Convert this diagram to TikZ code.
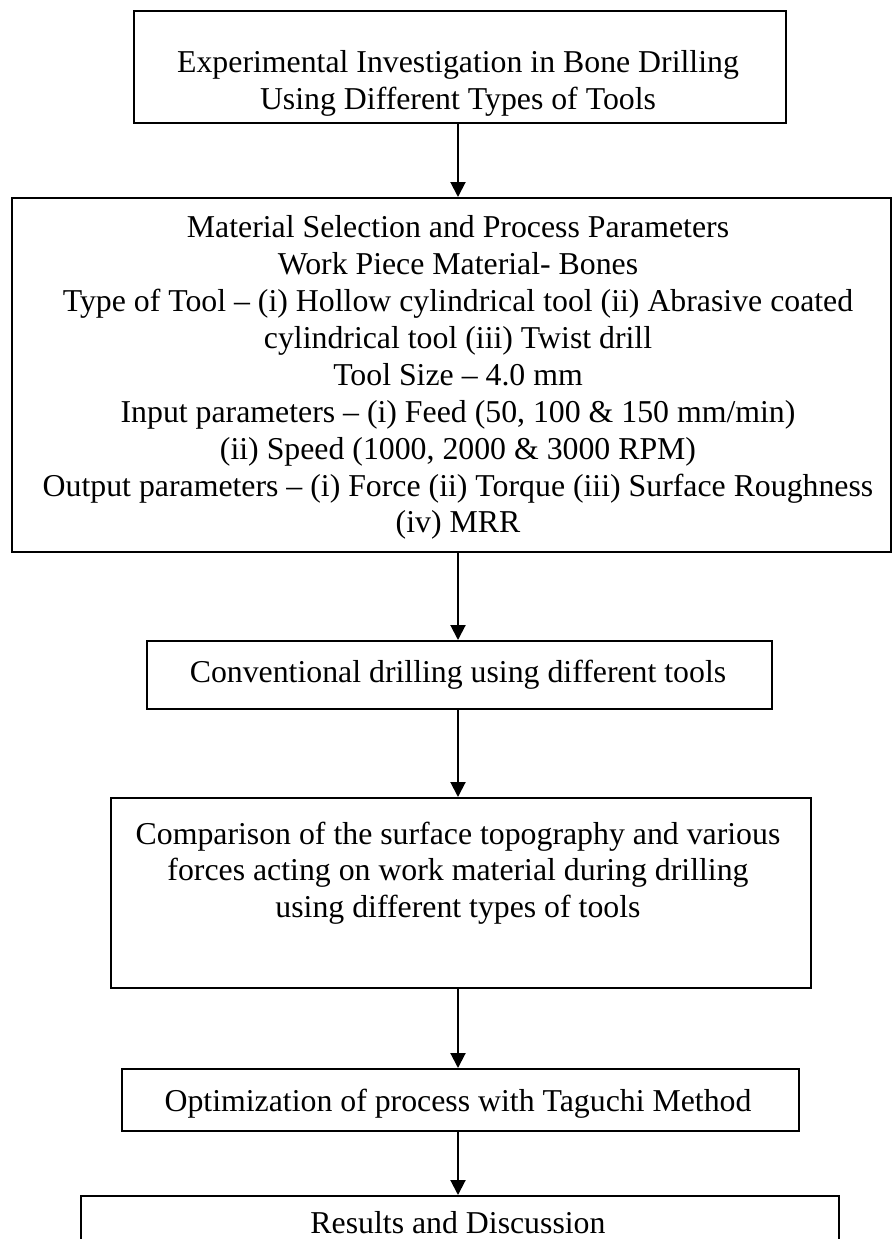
\documentclass[tikz,border=0pt]{standalone}
\usepackage{fontspec}
\setmainfont{Liberation Serif}
\usetikzlibrary{arrows.meta}
\begin{document}
\begin{tikzpicture}[x=1pt,y=-1pt,
  box/.style={draw=black,line width=2pt,fill=none,inner sep=0pt,anchor=north west},
  txt/.style={inner sep=0pt,anchor=base,font=\fontsize{31.8}{36.5}\selectfont},
  flow/.style={line width=2pt,-{Triangle[length=15pt,width=15pt]}}]
\useasboundingbox (0,0) rectangle (893,1239);
\clip (0,0) rectangle (893,1239);
% boxes
\node[box,minimum width=652pt,minimum height=112pt] (b1) at (133,10) {};
\node[box,minimum width=879pt,minimum height=354pt] (b2) at (11,197) {};
\node[box,minimum width=625pt,minimum height=68pt] (b3) at (146,640) {};
\node[box,minimum width=700pt,minimum height=190pt] (b4) at (110,797) {};
\node[box,minimum width=677pt,minimum height=62pt] (b5) at (121,1068) {};
\node[box,minimum width=758pt,minimum height=80pt] (b6) at (80,1195) {};
% texts
\node[txt] (t1a) at (458,73) {Experimental Investigation in Bone Drilling};
\node[txt] (t1b) at (458,109.5) {Using Different Types of Tools};
\node[txt] (t2a) at (458,237) {Material Selection and Process Parameters};
\node[txt] (t2b) at (458,274.1) {Work Piece Material- Bones};
\node[txt] (t2c) at (458,311.2) {Type of Tool -- (i) Hollow cylindrical tool (ii) Abrasive coated};
\node[txt] (t2d) at (458,348.3) {cylindrical tool (iii) Twist drill};
\node[txt] (t2e) at (458,385.4) {Tool Size -- 4.0 mm};
\node[txt] (t2f) at (458,422.5) {Input parameters -- (i) Feed (50, 100 \& 150 mm/min)};
\node[txt] (t2g) at (458,459.6) {(ii) Speed (1000, 2000 \& 3000 RPM)};
\node[txt] (t2h) at (458,496.7) {Output parameters -- (i) Force (ii) Torque (iii) Surface Roughness};
\node[txt] (t2i) at (458,532.5) {(iv) MRR};
\node[txt] (t3) at (458,682) {Conventional drilling using different tools};
\node[txt] (t4a) at (458,844) {Comparison of the surface topography and various};
\node[txt] (t4b) at (458,880.5) {forces acting on work material during drilling};
\node[txt] (t4c) at (458,917) {using different types of tools};
\node[txt] (t5) at (458,1111) {Optimization of process with Taguchi Method};
\node[txt] (t6) at (458,1233) {Results and Discussion};
% connectors
\draw[flow] (b1.south -| 458,0) -- (b2.north -| 458,0);
\draw[flow] (b2.south -| 458,0) -- (b3.north -| 458,0);
\draw[flow] (b3.south -| 458,0) -- (b4.north -| 458,0);
\draw[flow] (b4.south -| 458,0) -- (b5.north -| 458,0);
\draw[flow] (b5.south -| 458,0) -- (b6.north -| 458,0);
\end{tikzpicture}
\end{document}
